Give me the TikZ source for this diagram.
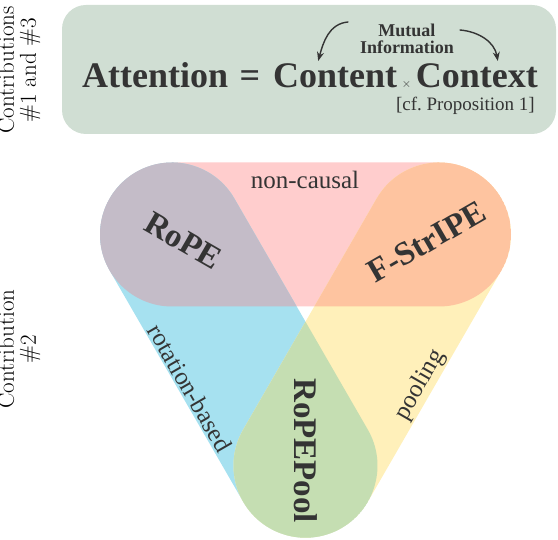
\documentclass[tikz,border=0pt]{standalone}
\usepackage{fontspec}
\newfontfamily\diagfont{Liberation Serif}
\usepackage{tikz}
\usetikzlibrary{arrows.meta}
\usetikzlibrary{calc}
\usetikzlibrary{positioning}
\definecolor{BandPink}{RGB}{255,205,205}
\definecolor{BandBlue}{RGB}{166,225,240}
\definecolor{BandYellow}{RGB}{255,240,186}
\definecolor{MixPurple}{RGB}{196,188,200}
\definecolor{MixOrange}{RGB}{254,196,160}
\definecolor{MixGreen}{RGB}{197,222,178}
\definecolor{BoxGreen}{RGB}{208,222,211}
\definecolor{InkGray}{RGB}{52,52,52}
\tikzset{
	>={Stealth[length=9pt, width=7pt]},
	formula/.style={text=InkGray, inner sep=0pt, font=\diagfont\fontsize{36}{40}\selectfont\bfseries},
	infotext/.style={text=InkGray, inner sep=0pt, align=center, font=\diagfont\fontsize{18}{17}\selectfont\bfseries},
	reftext/.style={text=InkGray, inner sep=0pt, font=\diagfont\fontsize{19}{22}\selectfont},
	infoarrow/.style={InkGray, line width=1.4pt, ->},
	bandlabel/.style={text=InkGray, font=\diagfont\fontsize{33}{36}\selectfont\bfseries},
	edgelabel/.style={text=InkGray, font=\diagfont\fontsize{25}{28}\selectfont},
	sidelabel/.style={black, rotate=90, align=center, inner sep=0pt, font=\fontsize{23}{22}\selectfont}
}
% rounded band between two circle centres, #3 = direction angle
\newcommand{\bandrad}{72pt}
\newcommand{\bandpath}[3]{($(#1)+(#3+90:\bandrad)$) -- ($(#2)+(#3+90:\bandrad)$) arc[start angle=#3+90, delta angle=-180, radius=\bandrad] -- ($(#1)+(#3-90:\bandrad)$) arc[start angle=#3-90, delta angle=-180, radius=\bandrad] -- cycle}

\begin{document}
\begin{tikzpicture}[x=1pt, y=1pt, line cap=round, line join=round]
	\useasboundingbox (0,0) rectangle (558,540);
	
	% Top box with the main relation
	\fill[BoxGreen, rounded corners=24pt] (62,406) rectangle (556,535);
	\node[formula, anchor=base west] (attn) at (82,452) {Attention};
	\node[formula, anchor=base] (eq) at (250,452) {=};
	\node[formula, anchor=base west] (content) at (273,452) {Content};
	\node[formula, anchor=base east] (context) at (538,452) {Context};
	\node[text=InkGray, inner sep=0pt, anchor=base, font=\fontsize{13}{13}\selectfont] (times) at ($(content.base east)!0.5!(context.base west)$) {$\times$};
	\node[infotext] (mi) at (407,501) {Mutual\\Information};
	\node[reftext, anchor=base east] (ref) at (535,429) {[cf.\ Proposition 1]};
	
	% Mutual information arrows
	\coordinate (miL) at (348,518);
	\coordinate (miR) at (460,510);
	\draw[infoarrow] (miL) to[out=185, in=75] ([xshift=-17pt, yshift=3pt]content.north);
	\draw[infoarrow] (miR) to[out=-5, in=100] ([xshift=21pt, yshift=3pt]context.north);
	
	% Side labels
	\node[sidelabel] (contribA) at (19,470) {Contributions\\\#1 and \#3};
	\node[sidelabel] (contribB) at (19,191) {Contribution\\\#2};
	
	% Circle centres of the three bands
	\coordinate (ropeC) at (172,305.5);
	\coordinate (strC) at (439,305.5);
	\coordinate (poolC) at (305.5,74.3);
	\coordinate (mid) at (305.5,228.4);
	
	% Bands
	\fill[BandPink] \bandpath{ropeC}{strC}{0};
	\fill[BandBlue] \bandpath{ropeC}{poolC}{-60};
	\fill[BandYellow] \bandpath{strC}{poolC}{240};
	
	% Overlaps
	\begin{scope}
		\clip \bandpath{ropeC}{strC}{0};
		\fill[MixPurple] \bandpath{ropeC}{poolC}{-60};
		\fill[MixOrange] \bandpath{strC}{poolC}{240};
	\end{scope}
	\begin{scope}
		\clip \bandpath{ropeC}{poolC}{-60};
		\fill[MixGreen] \bandpath{strC}{poolC}{240};
	\end{scope}
	
	% Method names
	\node[bandlabel, rotate=-30] (rope) at ($(ropeC)!13pt!(mid)$) {RoPE};
	\node[bandlabel, rotate=30] (fstripe) at ($(strC)!14pt!(mid)$) {F-StrIPE};
	\node[bandlabel, rotate=-90] (ropepool) at ($(poolC)!15pt!(mid)$) {RoPEPool};
	
	% Shared properties
	\node[edgelabel] (noncausal) at (305,360) {non-causal};
	\node[edgelabel, rotate=-60] (rotbased) at (190,152) {rotation-based};
	\node[edgelabel, rotate=60] (pooling) at (420,155) {pooling};
\end{tikzpicture}
\end{document}
